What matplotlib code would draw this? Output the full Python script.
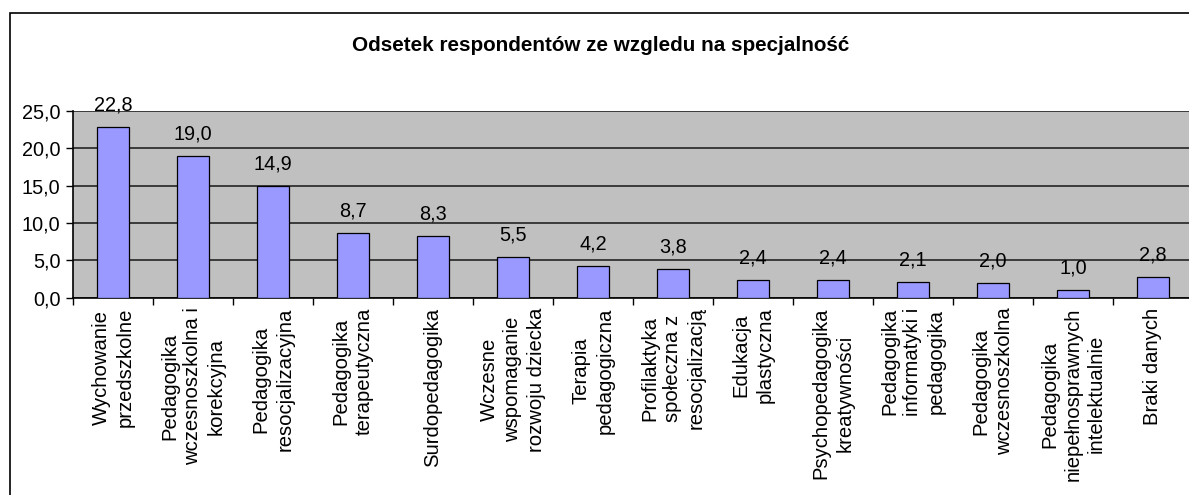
import numpy as np
import matplotlib.pyplot as plt
from matplotlib.patches import Rectangle

plt.rcParams['font.family'] = ['Liberation Sans', 'DejaVu Sans']

categories = [
    "Wychowanie\nprzedszkolne",
    "Pedagogika\nwczesnoszkolna i\nkorekcyjna",
    "Pedagogika\nresocjalizacyjna",
    "Pedagogika\nterapeutyczna",
    "Surdopedagogika",
    "Wczesne\nwspomaganie\nrozwoju dziecka",
    "Terapia\npedagogiczna",
    "Profilaktyka\nspołeczna z\nresocjalizacją",
    "Edukacja\nplastyczna",
    "Psychopedagogika\nkreatywności",
    "Pedagogika\ninformatyki i\npedagogika",
    "Pedagogika\nwczesnoszkolna",
    "Pedagogika\nniepełnosprawnych\nintelektualnie",
    "Braki danych",
]
values = [22.8, 19.0, 14.9, 8.7, 8.3, 5.5, 4.2, 3.8, 2.4, 2.4, 2.1, 2.0, 1.0, 2.8]
yticks = [0, 5, 10, 15, 20, 25]

W, H = 1189, 495
fig = plt.figure(figsize=(W / 100, H / 100), dpi=100)

# outer chart frame (right and bottom edges fall outside the picture)
fig.patches.append(Rectangle((10 / W, -0.1), 1.2, 1 - 13 / H + 0.1,
                             transform=fig.transFigure, fill=False,
                             edgecolor='black', linewidth=1.2))

ax = fig.add_axes([73 / W, (H - 297.7) / H, 1120 / W, 187 / H])
ax.set_facecolor('#C0C0C0')

x = np.arange(len(values))
ax.bar(x, values, width=0.41, color='#9999FF', edgecolor='black',
       linewidth=0.9, zorder=3)

for xi, v in zip(x, values):
    ax.annotate(f"{v:.1f}".replace('.', ','), (xi, v), xytext=(0, 9),
                textcoords='offset points', ha='center', va='bottom',
                fontsize=14.3, zorder=4)

ax.set_xlim(-0.5, len(values) - 0.5)
ax.set_ylim(0, 25)
ax.set_yticks(yticks)
ax.set_yticklabels([f"{t:.1f}".replace('.', ',') for t in yticks], fontsize=14.3)
ax.yaxis.grid(True, color='#303030', linewidth=1.3, zorder=1)
ax.set_axisbelow(True)

# ticks between categories, labels centred under bars
ax.set_xticks(np.arange(len(values) + 1) - 0.5)
ax.set_xticklabels([])
ax.set_xticks(x, minor=True)
ax.set_xticklabels(categories, minor=True, rotation=90, fontsize=14.6,
                   ha='center', va='top', multialignment='center',
                   linespacing=1.3)
ax.tick_params(axis='x', which='minor', length=0, pad=7)
ax.tick_params(axis='x', which='major', length=5, width=1, direction='out')
ax.tick_params(axis='y', length=5, width=1, direction='out', pad=4)

for s in ['top', 'right']:
    ax.spines[s].set_visible(False)
ax.spines['left'].set_linewidth(1.2)
ax.spines['bottom'].set_linewidth(1.2)

fig.text(601 / W, 1 - 51 / H, "Odsetek respondentów ze wzgledu na specjalność",
         ha='center', va='baseline', fontsize=14.9, fontweight='bold')

fig.savefig('out.png', dpi=100)
